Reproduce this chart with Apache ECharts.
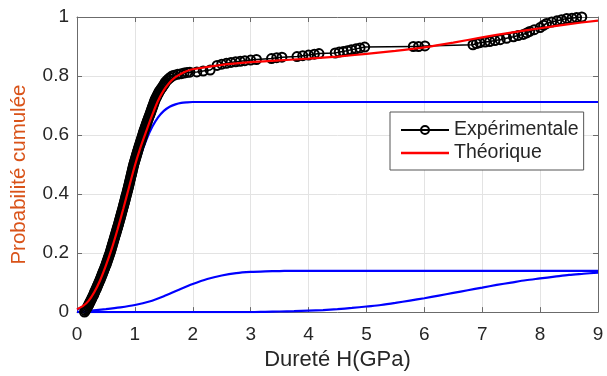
<!DOCTYPE html>
<html>
<head>
<meta charset="utf-8">
<script src="https://cdn.jsdelivr.net/npm/echarts@6/dist/echarts.min.js"></script>
<style>
html,body{margin:0;padding:0;background:#fff;}
#chart{width:607px;height:376px;}
</style>
</head>
<body>
<div id="chart"></div>
<script>
// ---- Data ----
const xTicks = [0, 1, 2, 3, 4, 5, 6, 7, 8, 9];
const yTicks = [0, 0.2, 0.4, 0.6, 0.8, 1];

// fine grid (GPa) for the theoretical curve and first component
const hardnessFine = [0,0.1,0.2,0.3,0.4,0.5,0.6,0.7,0.8,0.9,1.0,1.1,1.2,1.3,1.4,1.5,1.6,1.7,1.8,1.9,2.0,
  2.5,3.0,3.5,4.0,4.5,5.0,5.5,6.0,6.5,7.0,7.5,8.0,8.5,9.0];
const theoretical = [0.010,0.020,0.038,0.068,0.108,0.158,0.215,0.280,0.350,0.424,0.497,0.560,0.615,0.668,0.716,0.752,0.778,0.796,0.808,0.817,0.823,
  0.838,0.847,0.853,0.859,0.866,0.875,0.885,0.897,0.913,0.931,0.947,0.962,0.976,0.988];
const component1 = [0.008,0.018,0.034,0.058,0.093,0.140,0.196,0.260,0.330,0.402,0.470,0.532,0.585,0.628,0.660,0.682,0.696,0.704,0.709,0.711,0.712,
  0.712,0.712,0.712,0.712,0.712,0.712,0.712,0.712,0.712,0.712,0.712,0.712,0.712,0.712];

// coarse grid (GPa) for the two other components
const hardnessCoarse = [0,0.25,0.5,0.75,1,1.25,1.5,1.75,2,2.25,2.5,2.75,3,3.25,3.5,3.75,4,4.25,4.5,4.75,5,5.25,5.5,5.75,6,6.25,6.5,6.75,7,7.25,7.5,7.75,8,8.25,8.5,8.75,9];
const component2 = [0.000,0.005,0.010,0.016,0.024,0.036,0.054,0.075,0.095,0.112,0.124,0.132,0.136,0.138,0.139,0.140,0.140,0.140,0.140,0.140,0.140,0.140,0.140,0.140,0.140,0.140,0.140,0.140,0.140,0.140,0.140,0.140,0.140,0.140,0.140,0.140,0.140];
const component3 = [0.000,0.000,0.000,0.000,0.000,0.000,0.000,0.000,0.000,0.000,0.000,0.000,0.000,0.001,0.002,0.003,0.005,0.007,0.010,0.014,0.019,0.024,0.031,0.039,0.047,0.056,0.065,0.074,0.083,0.092,0.100,0.108,0.114,0.120,0.126,0.130,0.134];

// experimental cumulative distribution (hardness, cumulative probability)
const expH = [
  0.13,0.145,0.16,0.175,0.19,0.203,0.215,0.228,0.24,0.253,
  0.265,0.278,0.29,0.30,0.31,0.323,0.335,0.345,0.355,0.367,
  0.378,0.389,0.40,0.41,0.42,0.43,0.44,0.45,0.46,0.47,
  0.48,0.49,0.50,0.508,0.517,0.526,0.535,0.543,0.552,0.561,
  0.57,0.578,0.585,0.593,0.60,0.608,0.615,0.623,0.63,0.638,
  0.645,0.653,0.66,0.668,0.675,0.683,0.69,0.698,0.705,0.713,
  0.72,0.727,0.733,0.741,0.748,0.755,0.762,0.769,0.776,0.783,
  0.79,0.797,0.803,0.81,0.817,0.824,0.83,0.837,0.843,0.85,
  0.857,0.864,0.87,0.877,0.883,0.89,0.896,0.902,0.908,0.914,
  0.92,0.926,0.932,0.938,0.944,0.95,0.956,0.962,0.968,0.974,
  0.98,0.988,0.995,1.003,1.01,1.018,1.025,1.033,1.04,1.048,
  1.055,1.063,1.07,1.079,1.087,1.095,1.103,1.112,1.12,1.128,
  1.135,1.143,1.15,1.159,1.168,1.177,1.186,1.195,1.204,1.213,
  1.222,1.231,1.24,1.25,1.26,1.269,1.278,1.287,1.296,1.305,
  1.314,1.323,1.332,1.341,1.35,1.363,1.376,1.389,1.402,1.415,
  1.428,1.447,1.465,1.483,1.50,1.515,1.53,1.555,1.58,1.61,
  1.64,1.68,1.74,1.80,1.85,1.90,1.95,
  2.07,2.18,2.30,2.42,2.50,2.58,2.66,2.74,2.82,2.90,3.00,3.10,3.36,3.45,3.54,3.80,3.90,4.00,4.10,4.18,
  4.46,4.53,4.60,4.67,4.74,4.82,4.89,4.97,5.81,5.90,6.01,6.84,6.90,6.96,7.05,7.13,7.22,7.31,7.42,7.54,7.62,7.71,7.77,7.82,7.90,
  8.00,8.06,8.11,8.20,8.29,8.37,8.46,8.55,8.63,8.72];
const expP = [
  0.000,0.005,0.010,0.015,0.020,0.025,0.030,0.035,0.040,0.045,
  0.050,0.055,0.060,0.065,0.070,0.075,0.080,0.085,0.090,0.095,
  0.100,0.105,0.110,0.115,0.120,0.125,0.130,0.135,0.140,0.145,
  0.150,0.155,0.160,0.165,0.170,0.175,0.180,0.185,0.190,0.195,
  0.200,0.205,0.210,0.215,0.220,0.225,0.230,0.235,0.240,0.245,
  0.250,0.255,0.260,0.265,0.270,0.275,0.280,0.285,0.290,0.295,
  0.300,0.305,0.310,0.315,0.320,0.325,0.330,0.335,0.340,0.345,
  0.350,0.355,0.360,0.365,0.370,0.375,0.380,0.385,0.390,0.395,
  0.400,0.405,0.410,0.415,0.420,0.425,0.430,0.435,0.440,0.445,
  0.450,0.455,0.460,0.465,0.470,0.475,0.480,0.485,0.490,0.495,
  0.500,0.505,0.510,0.515,0.520,0.525,0.530,0.535,0.540,0.545,
  0.550,0.555,0.560,0.565,0.570,0.575,0.580,0.585,0.590,0.595,
  0.600,0.605,0.610,0.615,0.620,0.625,0.630,0.635,0.640,0.645,
  0.650,0.655,0.660,0.665,0.670,0.675,0.680,0.685,0.690,0.695,
  0.700,0.705,0.710,0.715,0.720,0.725,0.730,0.735,0.740,0.745,
  0.750,0.755,0.760,0.765,0.770,0.775,0.780,0.785,0.790,0.795,
  0.800,0.803,0.806,0.808,0.810,0.812,0.813,
  0.814,0.817,0.820,0.836,0.840,0.843,0.846,0.848,0.850,0.852,0.854,0.856,0.859,0.862,0.864,0.866,0.869,0.871,0.874,0.876,
  0.878,0.881,0.883,0.886,0.889,0.892,0.895,0.898,0.900,0.900,0.902,0.906,0.910,0.913,0.915,0.917,0.920,0.923,0.928,0.933,0.937,0.941,0.946,0.951,0.957,
  0.964,0.972,0.978,0.983,0.987,0.991,0.995,0.996,0.998,1.000];

const seriesNames = ['Expérimentale', 'Théorique'];

const zip = (xs, ys) => xs.map((x, i) => [x, ys[i]]);

const chart = echarts.init(document.getElementById('chart'), null, {renderer: 'canvas'});
const FONT = 'Liberation Sans, Arial, Helvetica, sans-serif';
const AX = '#6b6b6b';
const TXT = '#262626';

const baseAxis = {
  axisLine: {show: true, onZero: false, lineStyle: {color: AX, width: 1}},
  axisTick: {show: true, inside: true, length: 5, lineStyle: {color: AX}},
};

chart.setOption({
  animation: false,
  backgroundColor: '#fff',
  grid: {left: 77, right: 9, top: 17, bottom: 62, containLabel: false},
  legend: {
    data: [
      {name: seriesNames[0]},
      {name: seriesNames[1], icon: 'path://M0,0H48V2.5H0Z', itemStyle: {color: '#ff0000'}}
    ],
    orient: 'vertical',
    left: 390, top: 112,
    backgroundColor: '#fff',
    borderColor: '#555', borderWidth: 1,
    padding: [8, 5, 7, 10],
    itemGap: 3,
    itemWidth: 48, itemHeight: 10,
    symbolKeepAspect: true,
    textStyle: {fontFamily: FONT, fontSize: 19.5, color: TXT},
    selectedMode: false
  },
  xAxis: [
    Object.assign({}, baseAxis, {
      type: 'value', min: 0, max: 9, interval: 1, position: 'bottom',
      name: 'Dureté H(GPa)', nameLocation: 'middle', nameGap: 29,
      nameTextStyle: {fontFamily: FONT, fontSize: 22, color: TXT},
      axisLabel: {fontFamily: FONT, fontSize: 19, color: TXT, margin: 13,
        formatter: v => xTicks.includes(v) ? String(v) : ''},
      splitLine: {show: true, lineStyle: {color: '#e3e3e3', width: 1}}
    }),
    Object.assign({}, baseAxis, {
      type: 'value', min: 0, max: 9, interval: 1, position: 'top',
      axisLabel: {show: false}, splitLine: {show: false}
    })
  ],
  yAxis: [
    Object.assign({}, baseAxis, {
      type: 'value', min: 0, max: 1, interval: 0.2, position: 'left',
      name: 'Probabilité cumulée', nameLocation: 'middle', nameGap: 47,
      nameTextStyle: {fontFamily: FONT, fontSize: 20.5, color: '#D95319', padding: [0, 20, 0, 0]},
      axisLabel: {fontFamily: FONT, fontSize: 19, color: TXT, margin: 8,
        formatter: v => { const t = yTicks.find(k => Math.abs(k - v) < 1e-9); return t === undefined ? '' : String(t); }},
      splitLine: {show: true, lineStyle: {color: '#e3e3e3', width: 1}}
    }),
    Object.assign({}, baseAxis, {
      type: 'value', min: 0, max: 1, interval: 0.2, position: 'right',
      axisLabel: {show: false}, splitLine: {show: false}
    })
  ],
  series: [
    {
      name: 'Composante 1', type: 'line', data: zip(hardnessFine, component1),
      smooth: 0.3, showSymbol: false, symbol: 'none',
      lineStyle: {color: '#0000ff', width: 2.2}, itemStyle: {color: '#0000ff'}, z: 2
    },
    {
      name: 'Composante 2', type: 'line', data: zip(hardnessCoarse, component2),
      smooth: 0.3, showSymbol: false, symbol: 'none',
      lineStyle: {color: '#0000ff', width: 2.2}, itemStyle: {color: '#0000ff'}, z: 2
    },
    {
      name: 'Composante 3', type: 'line', data: zip(hardnessCoarse, component3),
      smooth: 0.3, showSymbol: false, symbol: 'none',
      lineStyle: {color: '#0000ff', width: 2.2}, itemStyle: {color: '#0000ff'}, z: 2
    },
    {
      name: seriesNames[0], type: 'line', data: zip(expH, expP),
      symbol: 'circle', symbolSize: 9, showAllSymbol: true,
      lineStyle: {color: '#000', width: 1.5},
      itemStyle: {color: 'rgba(255,255,255,0)', borderColor: '#000', borderWidth: 2},
      z: 3
    },
    {
      name: seriesNames[1], type: 'line', data: zip(hardnessFine, theoretical),
      smooth: 0.3, showSymbol: false, symbol: 'none',
      lineStyle: {color: '#ff0000', width: 2.2}, itemStyle: {color: '#ff0000'}, z: 4
    }
  ]
});
</script>
</body>
</html>
